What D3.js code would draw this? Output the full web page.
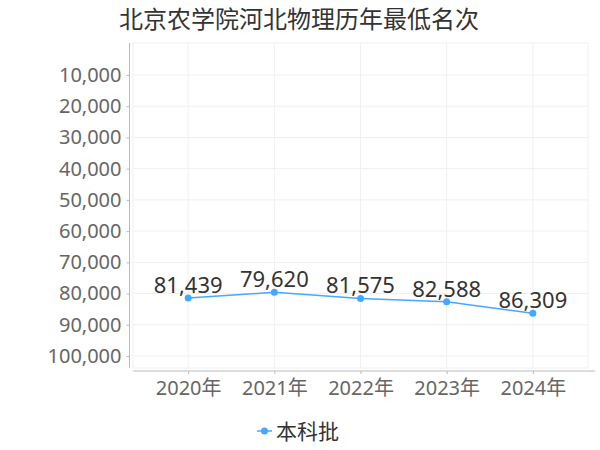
<!DOCTYPE html>
<html>
<head>
<meta charset="utf-8">
<script src="https://cdn.jsdelivr.net/npm/d3@7"></script>
<style>
  body { margin: 0; background: #fff; }
  svg { display: block; font-family: 'Noto Sans', 'Noto Sans CJK SC', sans-serif; }
</style>
</head>
<body>
<svg width="600" height="450"></svg>
<script>
const title = '北京农学院河北物理历年最低名次';
const years = ['2020年', '2021年', '2022年', '2023年', '2024年'];
const ranks = [81439, 79620, 81575, 82588, 86309];
const yTicks = [10000, 20000, 30000, 40000, 50000, 60000, 70000, 80000, 90000, 100000];
const seriesName = '本科批';

const lineColor = '#45a8ff';
const svg = d3.select('svg');

// plot box
const plotL = 133, plotR = 588, plotT = 43, plotB = 368;

const x = d3.scalePoint()
  .domain(years)
  .range([plotL, plotR])
  .padding(0.64);

// rank axis runs downward: small ranks at top
const y = d3.scaleLinear()
  .domain([10000, 100000])
  .range([75, 356]);

svg.append('text')
  .attr('x', 299)
  .attr('y', 28)
  .attr('text-anchor', 'middle')
  .style('font-size', '24px')
  .style('fill', '#333')
  .text(title);

// grid
const grid = svg.append('g');
grid.append('rect')
  .attr('x', plotL).attr('y', plotT)
  .attr('width', plotR - plotL).attr('height', plotB - plotT)
  .style('fill', 'none').style('stroke', '#f0f0f0');
grid.selectAll('.hg')
  .data(yTicks)
  .join('line')
  .attr('x1', plotL).attr('x2', plotR)
  .attr('y1', (d) => y(d)).attr('y2', (d) => y(d))
  .style('stroke', '#f0f0f0');
grid.selectAll('.vg')
  .data(years)
  .join('line')
  .attr('x1', (d) => x(d)).attr('x2', (d) => x(d))
  .attr('y1', plotT).attr('y2', plotB)
  .style('stroke', '#f0f0f0');

// y axis
const yAxis = svg.append('g')
  .attr('transform', 'translate(129.5,0)')
  .call(d3.axisLeft(y).tickValues(yTicks).tickSize(3).tickPadding(5)
    .tickFormat(d3.format(',')));
yAxis.select('.domain').attr('d', `M0,${plotT}V${plotB}`).style('stroke', '#bbb');
yAxis.selectAll('.tick line').style('stroke', '#bbb');
yAxis.selectAll('.tick text')
  .style('font-size', '20px')
  .style('fill', '#666');

// x axis
const xAxis = svg.append('g')
  .attr('transform', 'translate(0,371)')
  .call(d3.axisBottom(x).tickSize(3).tickPadding(7));
xAxis.select('.domain').attr('d', `M${plotL},0H${plotR + 7}`).style('stroke', '#bbb');
xAxis.selectAll('.tick line').style('stroke', '#bbb');
xAxis.selectAll('.tick text')
  .style('font-size', '20px')
  .style('fill', '#666');
svg.selectAll('g').attr('font-family', null);

// series
const pts = years.map((d, i) => ({ year: d, rank: ranks[i] }));

svg.append('path')
  .datum(pts)
  .attr('d', d3.line().x((d) => x(d.year)).y((d) => y(d.rank)))
  .style('fill', 'none')
  .style('stroke', lineColor)
  .style('stroke-width', 1.5);

svg.selectAll('.dot')
  .data(pts)
  .join('circle')
  .attr('cx', (d) => x(d.year))
  .attr('cy', (d) => y(d.rank))
  .attr('r', 3.5)
  .style('fill', lineColor);

svg.selectAll('.lbl')
  .data(pts)
  .join('text')
  .attr('x', (d) => x(d.year))
  .attr('y', (d) => y(d.rank) - 5)
  .attr('text-anchor', 'middle')
  .style('font-size', '22px')
  .style('fill', '#333')
  .text((d) => d3.format(',')(d.rank));

// legend
const legend = svg.append('g').attr('transform', 'translate(257,431)');
legend.append('line')
  .attr('x1', 0).attr('x2', 15)
  .style('stroke', lineColor).style('stroke-width', 1.5);
legend.append('circle')
  .attr('cx', 7.5).attr('r', 3.5)
  .style('fill', lineColor);
legend.append('text')
  .attr('x', 19)
  .attr('dy', '0.36em')
  .style('font-size', '21px')
  .style('fill', '#333')
  .text(seriesName);
</script>
</body>
</html>
